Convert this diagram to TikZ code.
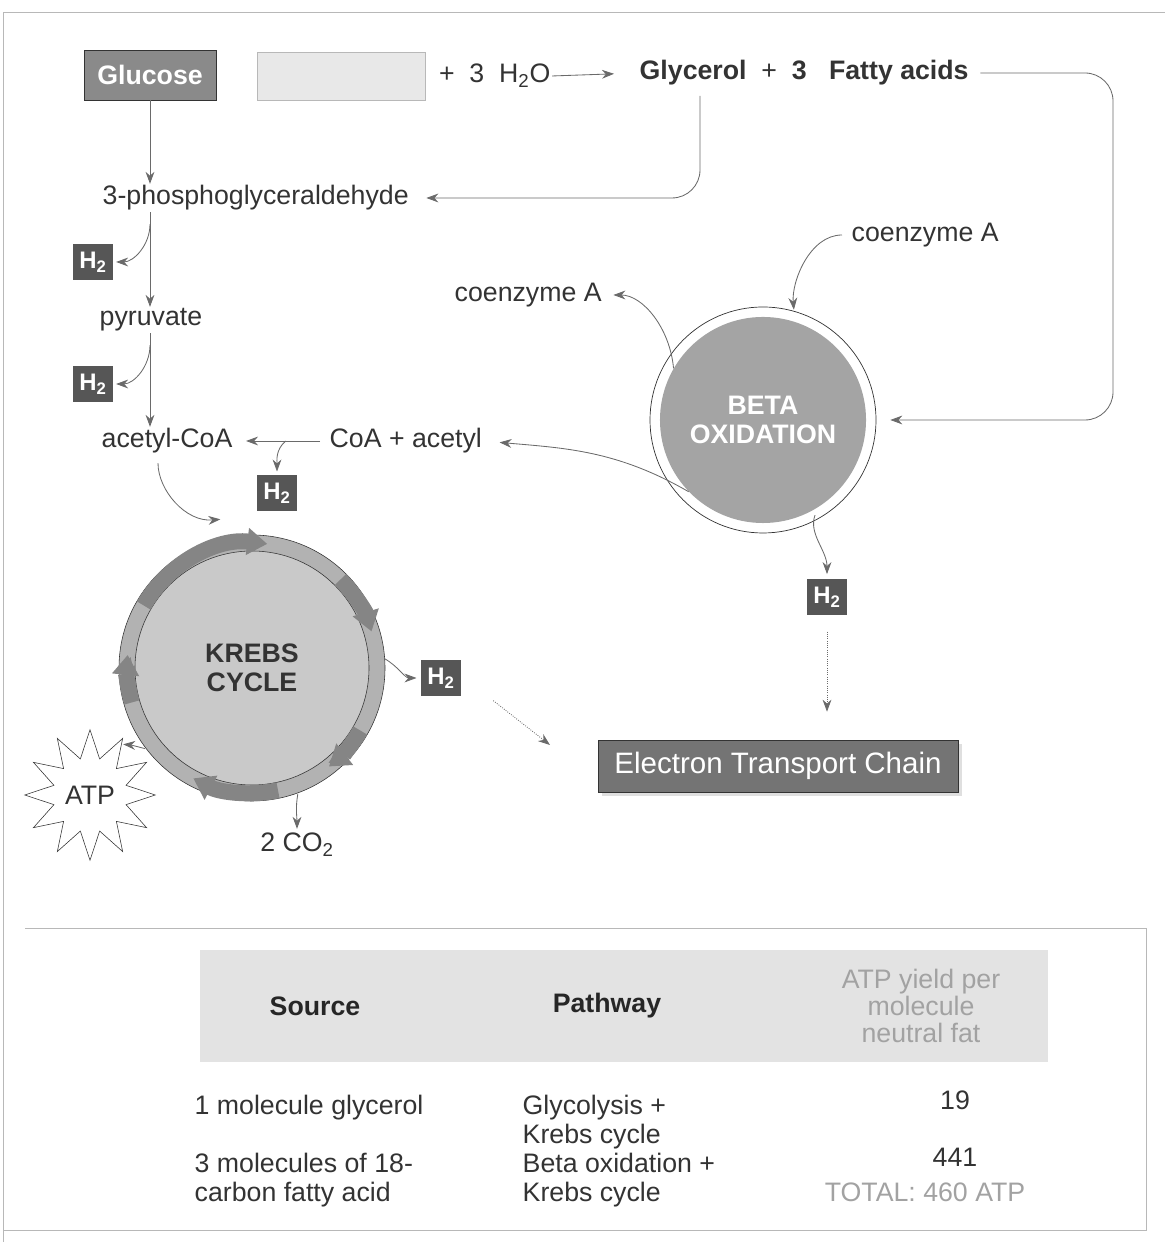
\documentclass[tikz,border=0pt]{standalone}
\usepackage{fontspec}
\setmainfont{Liberation Sans}
\usepackage{xcolor}
\usepackage{tikz}
\usetikzlibrary{arrows.meta,positioning,shapes.geometric,shadows,calc}
\definecolor{LineGrey}{HTML}{6A6A6A}
\definecolor{InkGrey}{HTML}{333333}
\definecolor{FrameGrey}{HTML}{B8B8B8}
\definecolor{BoxDark}{HTML}{565656}
\definecolor{GlucoseGrey}{HTML}{8A8A8A}
\definecolor{FatLight}{HTML}{E8E8E8}
\definecolor{BetaFill}{HTML}{A4A4A4}
\definecolor{KrebsFill}{HTML}{C9C9C9}
\definecolor{RingMid}{HTML}{B2B2B2}
\definecolor{RingDark}{HTML}{858585}
\definecolor{EtcGrey}{HTML}{747474}
\definecolor{HeadBand}{HTML}{E3E3E3}
\definecolor{FaintText}{HTML}{A2A2A2}
\newcommand{\htwo}{H\textsubscript{2}}

\begin{document}
\begin{tikzpicture}[
  x=0.025cm, y=0.025cm,
  chem/.style={font=\fontsize{19}{20.6}\selectfont, text=InkGrey, inner sep=1pt},
  hbox/.style={fill=BoxDark, text=white, font=\fontsize{17}{18}\selectfont\bfseries, minimum width=1cm, minimum height=0.92cm, inner sep=0pt},
  topbox/.style={draw=InkGrey, minimum width=3.3cm, minimum height=1.25cm, font=\fontsize{19}{22}\selectfont\bfseries, text=white},
  arrow/.style={-{Stealth[length=3mm,width=2.2mm]}, LineGrey, line width=0.6pt},
  dotarrow/.style={arrow, densely dotted},
  ringarrow/.style={-{Triangle[length=5mm,width=6.5mm]}, RingDark, line width=0.4cm},
  cell/.style={chem, anchor=west, align=left}
]
  \useasboundingbox (0,0) rectangle (1176,1242);
  \draw[FrameGrey] (3,0) -- (3,1230) -- (1165,1230);
  \draw[FrameGrey] (3,12) -- (1146,12) -- (1146,314) -- (25,314);

  % top row
  \node[topbox, fill=GlucoseGrey] (glucose) at (150,1167) {Glucose};
  \node[topbox, draw=FrameGrey, fill=FatLight, minimum width=4.2cm, minimum height=1.2cm] (fat) at (341,1166) {};
  \node[chem, right=0.3cm of fat] (water) {+\ \ 3\ \ H\textsubscript{2}O};
  \node[chem, anchor=west, font=\fontsize{19}{22}\selectfont\bfseries] (products) at (638,1169) {Glycerol\ \ {\mdseries +}\ \ 3\ \ \ Fatty acids};
  \coordinate (glyc) at (700,1146);

  % glycolysis column
  \node[chem, anchor=west] (pga) at (101,1044) {3-phosphoglyceraldehyde};
  \node[chem, anchor=west] (pyruvate) at (98,922) {pyruvate};
  \node[chem, anchor=west] (acetylcoa) at (100,801) {acetyl-CoA};
  \node[chem, anchor=west] (coaacetyl) at (328,801) {CoA + acetyl};
  \node[hbox] (hpga) at (93,980) {\htwo};
  \node[hbox] (hpyr) at (93,858) {\htwo};
  \node[hbox] (hacetyl) at (277,749) {\htwo};

  % beta oxidation
  \node[circle, fill=BetaFill, minimum size=5.15cm, align=center, text=white, font=\fontsize{19}{21}\selectfont\bfseries] (beta) at (763,822) {BETA\\OXIDATION};
  \draw[InkGrey, line width=0.5pt] (beta.center) circle[radius=113];
  \node[chem, anchor=west] (coaright) at (850,1007) {coenzyme A};
  \node[chem, anchor=west] (coaleft) at (453,947) {coenzyme A};
  \node[hbox] (hbeta) at (827,645) {\htwo};

  % krebs cycle
  \node[circle, fill=KrebsFill, minimum size=5.85cm, align=center, text=InkGrey, font=\fontsize{19}{21}\selectfont\bfseries] (krebs) at (252,574) {KREBS\\CYCLE};
  \draw[RingMid, line width=0.4cm] (krebs.center) circle[radius=125];
  \draw[InkGrey, line width=0.4pt] (krebs.center) circle[radius=133] (krebs.center) circle[radius=117];
  \foreach \a/\b in {150/83, 45/17, -30/-52, -78/-118, 196/174}
    \draw[ringarrow] (krebs.center) ++(\a:125) arc[start angle=\a, end angle=\b, radius=125];
  \node[hbox] (hkrebs) at (441,564) {\htwo};
  \node[star, star points=12, star point ratio=1.75, minimum size=2.75cm, inner sep=0pt, draw=InkGrey, fill=white, chem] (atp) at (90,447) {ATP};
  \node[chem] (co2) at (297,397) {2 CO\textsubscript{2}};
  \coordinate (krebsin) at ($(krebs.center)+(102:152)$);
  \coordinate (etcin) at (550,497);

  \node[draw=InkGrey, fill=EtcGrey, minimum width=9cm, minimum height=1.3cm, text=white, font=\fontsize{21}{24}\selectfont, drop shadow={shadow xshift=0.1cm, shadow yshift=-0.1cm, fill=black!25}] (etc) at (778,476) {Electron Transport Chain};

  % connectors
  \draw[arrow] (glucose.south) -- (glucose.south |- pga.north);
  \draw[arrow, shorten >=0.6cm] (water.east) -- (products.west);
  \draw[arrow, rounded corners=0.7cm, shorten >=0.4cm] (glyc) |- (pga.east);
  \draw[arrow, rounded corners=0.7cm, shorten <=0.25cm, shorten >=0.6cm] (products.east) -| (1113,822) -- (beta.east);
  \draw[arrow] (pga.south -| glucose.south) -- (pyruvate.north -| glucose.south);
  \draw[arrow, shorten >=2pt] ($(pga.south -| glucose.south)+(0,-12)$) to[out=-90, in=0] (hpga.east);
  \draw[arrow] (pyruvate.south -| glucose.south) -- (acetylcoa.north -| glucose.south);
  \draw[arrow, shorten >=2pt] ($(pyruvate.south -| glucose.south)+(0,-12)$) to[out=-90, in=0] (hpyr.east);
  \draw[arrow, shorten <=0.2cm, shorten >=0.3cm] (coaacetyl.west) -- (acetylcoa.east);
  \draw[arrow, shorten >=2pt] ($(acetylcoa.east)!0.55!(coaacetyl.west)$) to[out=-140, in=90] (hacetyl.north);
  \draw[arrow, shorten >=0.4cm] (beta.224) to[out=150, in=-5] (coaacetyl.east);
  \draw[arrow, shorten >=0.25cm] (beta.150) to[out=95, in=0] (coaleft.east);
  \draw[arrow, shorten <=0.2cm, shorten >=0.3cm] (coaright.west) to[out=180, in=95] (beta.72);
  \draw[arrow, shorten <=0.2cm, shorten >=3pt] (beta.-58) to[out=-110, in=90] (hbeta.north);
  \draw[dotarrow, shorten <=0.4cm, shorten >=0.7cm] (hbeta.south) -- (hbeta.south |- etc.north);
  \draw[arrow, shorten <=0.2cm] (acetylcoa.south -| 158,0) to[out=-90, in=185] (krebsin);
  \draw[arrow, shorten >=3pt] ($(krebs.center)+(4:133)$) to[out=-30, in=180] (hkrebs.west);
  \draw[dotarrow] ($(hkrebs.south east)+(32,-4)$) -- (etcin);
  \draw[arrow, shorten >=1pt] ($(krebs.center)+(217:134)$) to[out=165, in=-5] (atp.58);
  \draw[arrow, shorten >=2pt] ($(krebs.center)+(-70:134)$) to[out=-100, in=90] (co2.north);

  % yield table
  \fill[HeadBand] (200,180) rectangle (1048,292);
  \node[chem, font=\fontsize{19}{22}\selectfont\bfseries, text=black!85] (source) at (315,236) {Source};
  \node[chem, font=\fontsize{19}{22}\selectfont\bfseries, text=black!85] (pathway) at (607,236) {Pathway};
  \node[chem, align=center, text=FaintText, font=\fontsize{19}{19.5}\selectfont] (yield) at (921,236) {ATP yield per\\molecule\\neutral fat};
  \node[cell] (srcglyc) at (193,134) {1 molecule glycerol};
  \node[cell] (pathglyc) at (521,120) {Glycolysis +\\Krebs cycle};
  \node[chem] (yieldglyc) at (955,142) {19};
  \node[cell] (srcfat) at (193,62) {3 molecules of 18-\\carbon fatty acid};
  \node[cell] (pathfat) at (521,62) {Beta oxidation +\\Krebs cycle};
  \node[chem] (yieldfat) at (955,85) {441};
  \node[chem, text=FaintText] (total) at (925,50) {TOTAL: 460 ATP};
\end{tikzpicture}
\end{document}
